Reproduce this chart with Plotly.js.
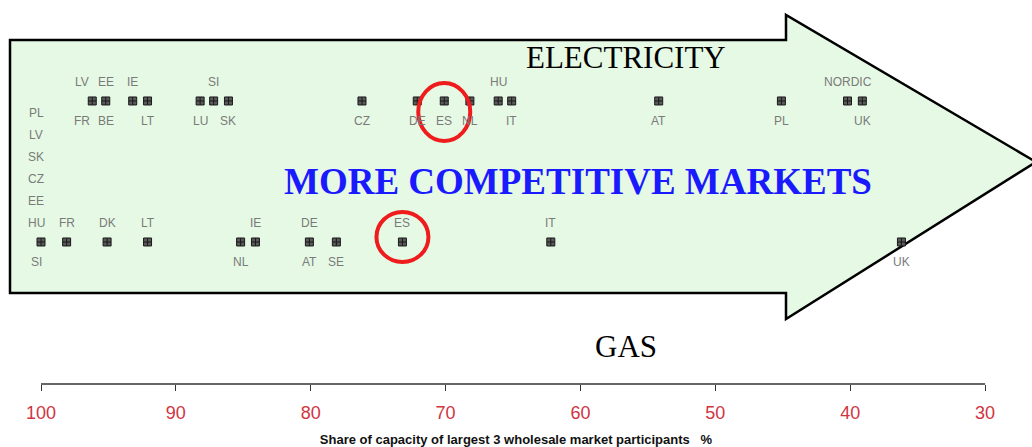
<!DOCTYPE html>
<html>
<head>
<meta charset="utf-8">
<script src="https://cdn.plot.ly/plotly-3.0.1.min.js"></script>
<style>html,body{margin:0;padding:0;background:#fff;}#chart{width:1032px;height:447px;}</style>
</head>
<body>
<div id="chart"></div>
<script>
// ---- data ----
var elecCountries = ['LV','FR','EE','BE','IE','LT','LU','SI','SK','CZ','DE','ES','NL','HU','IT','AT','PL','NORDIC','UK'];
var elecShare     = [96.2,96.2,95.2,95.2,93.2,92.1,88.2,87.2,86.1,76.2,72.1,70.1,68.2,66.1,65.1,54.2,45.1,40.2,39.1];
var elecLabelSide = ['above','below','above','below','above','below','below','above','below','below','below','below','below','above','below','below','below','above','below'];

var gasCountries = ['HU','EE','CZ','SK','LV','PL','SI','FR','DK','LT','NL','IE','DE','AT','SE','ES','IT','UK'];
var gasShare     = [100,100,100,100,100,100,100,98.1,95.1,92.1,85.2,84.1,80.1,80.1,78.1,73.2,62.2,36.2];
var gasLabelSide = ['above','above','above','above','above','above','below','above','above','above','below','above','above','below','below','above','above','below'];

var highlighted = ['ES'];
var tickValues = [100,90,80,70,60,50,40,30];
var rowNames = ['GAS','ELECTRICITY'];
var axisTitle = 'Share of capacity of largest 3 wholesale market participants&nbsp;&nbsp;&nbsp;%';
var headline = 'MORE COMPETITIVE MARKETS';

// ---- layout helpers ----
var W = 1032, H = 447, PH = 384;
var XR = [103.04, 26.52];
function px(x){ return x / W; }
function py(y){ return 1 - y / PH; }
function xpix(v){ return (v - XR[0]) / (XR[1] - XR[0]) * W; }

var arrowPts = [[10,40],[786,40],[786,15],[1036,162],[786,319],[786,293],[10,293]];
var arrowPath = arrowPts.map(function(p,i){ return (i?'L':'M') + px(p[0]) + ',' + py(p[1]); }).join(' ') + ' Z';

function uniqueVals(arr){ var o=[]; arr.forEach(function(v){ if(o.indexOf(v)<0) o.push(v); }); return o; }

var annotations = [];
function addLabels(countries, shares, sides, row){
  var stackCount = {};
  var minGap = 24;
  var nudge = countries.map(function(){ return 0; });
  ['above','below'].forEach(function(side){
    var idx = [];
    for (var i=0;i<countries.length;i++) if (sides[i]===side) idx.push(i);
    var firsts = {};
    idx = idx.filter(function(i){ if (firsts[shares[i]]) return false; firsts[shares[i]] = true; return true; });
    idx.sort(function(a,b){ return xpix(shares[a]) - xpix(shares[b]); });
    for (var j=1;j<idx.length;j++){
      var d = xpix(shares[idx[j]]) - xpix(shares[idx[j-1]]);
      if (d > 0 && d < minGap) nudge[idx[j-1]] = -(minGap - d);
    }
  });
  for (var i=0;i<countries.length;i++){
    var key = shares[i] + '|' + sides[i];
    var k = stackCount[key] || 0; stackCount[key] = k + 1;
    var above = sides[i] === 'above';
    annotations.push({
      x: shares[i], y: row, xref:'x', yref:'y', text: countries[i], showarrow:false,
      xshift: nudge[i] + (shares[i] === 100 ? -5 : 0),
      yshift: above ? (19 + 22*k) : -(20 + 22*k),
      font:{family:'Liberation Sans, Arial, sans-serif', size:12, color:'#7a7a7a'},
      xanchor:'center', yanchor:'middle'
    });
  }
}
addLabels(elecCountries, elecShare, elecLabelSide, 'ELECTRICITY');
addLabels(gasCountries, gasShare, gasLabelSide, 'GAS');

annotations.push({xref:'paper', yref:'paper', x:px(626), y:py(57), text:'ELECTRICITY', showarrow:false,
  font:{family:'Liberation Serif, Times New Roman, serif', size:31, color:'#000'}, xanchor:'center', yanchor:'middle'});
annotations.push({xref:'paper', yref:'paper', x:px(626), y:py(346), text:'GAS', showarrow:false,
  font:{family:'Liberation Serif, Times New Roman, serif', size:31, color:'#000'}, xanchor:'center', yanchor:'middle'});
annotations.push({xref:'paper', yref:'paper', x:px(578), y:py(181), text:'<b>' + headline + '</b>', showarrow:false,
  font:{family:'Liberation Serif, Times New Roman, serif', size:37, color:'#1a1aff'}, xanchor:'center', yanchor:'middle'});

var shapes = [
  {type:'path', xref:'paper', yref:'paper', path: arrowPath, fillcolor:'#e6f9e4', line:{color:'#000', width:2.5}, layer:'below'},
  {type:'line', xref:'x', yref:'paper', x0:tickValues[0], x1:tickValues[tickValues.length-1], y0:0, y1:0, line:{color:'#333', width:1.5}}
];
highlighted.forEach(function(name){
  var ie = elecCountries.indexOf(name), ig = gasCountries.indexOf(name);
  if (ie >= 0) shapes.push({type:'circle', xref:'x', yref:'y', xsizemode:'pixel', ysizemode:'pixel',
    xanchor: elecShare[ie], yanchor:'ELECTRICITY', x0:-26, x1:26, y0:-40, y1:18, line:{color:'#ee1c1c', width:4}});
  if (ig >= 0) shapes.push({type:'circle', xref:'x', yref:'y', xsizemode:'pixel', ysizemode:'pixel',
    xanchor: gasShare[ig], yanchor:'GAS', x0:-26, x1:26, y0:-20, y1:30, line:{color:'#ee1c1c', width:4}});
});

var markerStyle = {symbol:'square-cross', size:8, color:'#5a5a5a', line:{color:'#1a1a1a', width:1}};
var elecX = uniqueVals(elecShare), gasX = uniqueVals(gasShare);
var traces = [
  {type:'scatter', mode:'markers', x: elecX, y: elecX.map(function(){return 'ELECTRICITY';}), marker: markerStyle, hoverinfo:'x', showlegend:false},
  {type:'scatter', mode:'markers', x: gasX, y: gasX.map(function(){return 'GAS';}), marker: markerStyle, hoverinfo:'x', showlegend:false}
];

var layout = {
  width: W, height: H,
  margin:{l:0, r:0, t:0, b:H-PH, pad:0},
  paper_bgcolor:'#fff', plot_bgcolor:'rgba(0,0,0,0)',
  showlegend:false,
  xaxis:{range: XR, tickvals: tickValues, ticktext: tickValues.map(String),
    ticks:'outside', ticklen:6, tickcolor:'#333', tickwidth:1, ticklabelstandoff:6,
    showline:false, showgrid:false, zeroline:false,
    tickfont:{family:'Liberation Sans, Arial, sans-serif', size:18, color:'#d0353f'}, automargin:false,
    title:{text:'<b>' + axisTitle + '</b>', standoff:13, font:{family:'Liberation Sans, Arial, sans-serif', size:13, color:'#111'}}},
  yaxis:{type:'category', categoryorder:'array', categoryarray: rowNames, range:[-1.007, 1.716],
    visible:false, showgrid:false, zeroline:false, fixedrange:true},
  shapes: shapes,
  annotations: annotations
};

Plotly.newPlot('chart', traces, layout, {displayModeBar:false, staticPlot:true});
</script>
</body>
</html>
